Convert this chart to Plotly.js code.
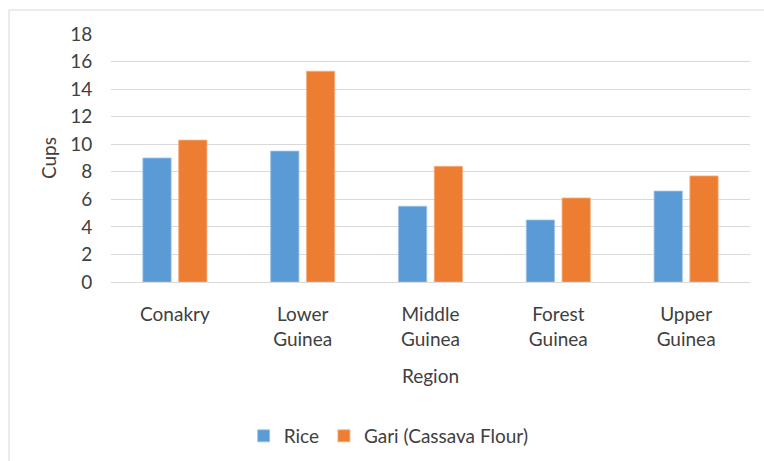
<!DOCTYPE html>
<html>
<head>
<meta charset="utf-8">
<script src="https://cdn.plot.ly/plotly-3.0.1.min.js"></script>
<style>html,body{margin:0;padding:0;background:#fff;}#chart{width:764px;height:461px;}</style>
</head>
<body>
<div id="chart"></div>
<script>
const regions = ["Conakry", "Lower Guinea", "Middle Guinea", "Forest Guinea", "Upper Guinea"];
const regionLabels = ["Conakry", "Lower<br>Guinea", "Middle<br>Guinea", "Forest<br>Guinea", "Upper<br>Guinea"];
const rice = [9.0, 9.5, 5.5, 4.5, 6.6];
const gari = [10.3, 15.3, 8.4, 6.1, 7.7];
const yTicks = [0, 2, 4, 6, 8, 10, 12, 14, 16, 18];

const font = {family: "Lato, 'Open Sans', sans-serif", size: 19, color: "#404040"};

const traces = [
  {type: "bar", name: "Rice", x: regions, y: rice,
   marker: {color: "#5B9BD5", line: {color: "#9DC3E6", width: 0.8}}},
  {type: "bar", name: "Gari (Cassava Flour)", x: regions, y: gari,
   marker: {color: "#ED7D31", line: {color: "#F4B183", width: 0.8}}}
];

const px = (p) => (p - 111) / 639;
const py = (p) => (282 - p) / 248;

const layout = {
  width: 764, height: 461,
  margin: {l: 111, r: 14, t: 34, b: 179, autoexpand: false},
  paper_bgcolor: "#fff", plot_bgcolor: "#fff",
  font: font,
  barmode: "group",
  bargap: 0.44,
  bargroupgap: 0.21,
  showlegend: true,
  legend: {orientation: "h", x: 0.4345, xanchor: "center", y: py(436), yanchor: "middle",
           font: font, itemwidth: 30, tracegroupgap: 0},
  xaxis: {
    type: "category",
    tickvals: regions, ticktext: regionLabels,
    showgrid: false, showline: false, zeroline: false,
    ticks: "outside", ticklen: 15, tickcolor: "rgba(0,0,0,0)",
    tickfont: font,
    title: {text: "Region", font: font, standoff: 21},
    automargin: false
  },
  yaxis: {
    range: [0, 18], tickvals: yTicks,
    showgrid: true, gridcolor: "#D9D9D9", gridwidth: 1,
    zeroline: true, zerolinecolor: "#D9D9D9", zerolinewidth: 1,
    showline: false,
    ticks: "outside", ticklen: 14, tickcolor: "rgba(0,0,0,0)",
    tickfont: font,
    title: {text: "Cups", font: font, standoff: 8},
    automargin: false
  },
  shapes: [
    {type: "line", xref: "paper", yref: "paper", x0: px(9), x1: px(9), y0: py(10), y1: py(461),
     line: {color: "#D9D9D9", width: 1}},
    {type: "line", xref: "paper", yref: "paper", x0: px(9), x1: px(764), y0: py(10), y1: py(10),
     line: {color: "#D9D9D9", width: 1}}
  ]
};

Plotly.newPlot("chart", traces, layout, {displayModeBar: false, staticPlot: true});
</script>
</body>
</html>
